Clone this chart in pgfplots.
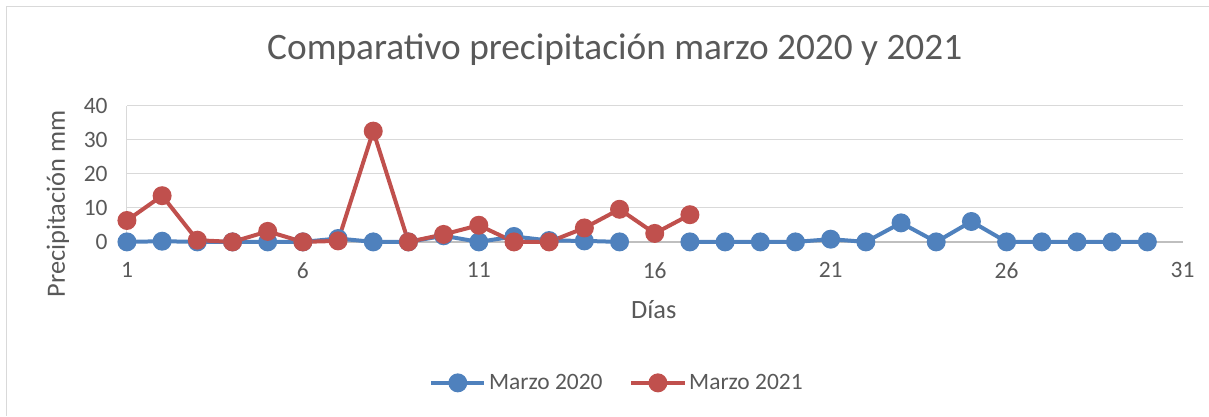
\documentclass[border=0pt]{standalone}
\usepackage{pgfplots}
\pgfplotsset{compat=1.18}
\usepackage{fontspec}
\setmainfont{Carlito}
\definecolor{cblue}{HTML}{4F81BD}
\definecolor{cred}{HTML}{C0504D}
\definecolor{ctext}{HTML}{595959}
\definecolor{cgrid}{HTML}{D9D9D9}
\definecolor{caxis}{HTML}{BFBFBF}
\begin{document}
\begin{tikzpicture}
\path (0,0) rectangle (906.75pt,312pt);
\draw[cgrid, line width=0.75pt] (5.25pt,0) -- (5.25pt,306.75pt) -- (906.75pt,306.75pt);
\node[text=ctext, font=\fontsize{28}{33}\selectfont] at (461.25pt,274.5pt) {Comparativo precipitación marzo 2020 y 2021};
\node[text=ctext, font=\fontsize{19.8}{24}\selectfont] at (490.5pt,79.5pt) {Días};
\node[text=ctext, font=\fontsize{19.8}{24}\selectfont, rotate=90] at (43.5pt,159pt) {Precipitación mm};
\begin{axis}[
  at={(95.25pt,130.5pt)}, anchor=south west,
  scale only axis, width=792pt, height=102pt,
  xmin=1, xmax=31, ymin=0, ymax=40,
  xtick={1,6,11,16,21,26,31}, ytick={0,10,20,30,40},
  major tick length=0pt,
  axis x line*=bottom, axis y line*=left,
  x axis line style={caxis, line width=1pt, -},
  y axis line style={cgrid, line width=0.75pt, -},
  ymajorgrids, grid style={cgrid, line width=0.75pt},
  /pgf/number format/assume math mode=true,
  tick label style={text=ctext, font=\fontsize{17.6}{21}\selectfont},
  xticklabel style={yshift=-12pt},
  yticklabel style={xshift=-11pt},
  clip=false,
  unbounded coords=jump,
  legend columns=2,
  legend style={at={(axis description cs:0.4645,-1.037)}, anchor=center, draw=none, fill=none,
    font=\fontsize{17.6}{21}\selectfont, text=ctext,
    /tikz/every even column/.append style={column sep=18pt}},
  legend image code/.code={\draw[mark repeat=2,mark phase=2,#1] plot coordinates {(0pt,0pt) (20pt,0pt) (40pt,0pt)};},
]
\addplot[cblue, line width=3pt, mark=*, mark size=5.6pt, mark options={solid}] coordinates {
(1,0) (2,0.2) (3,0) (4,0) (5,0) (6,0) (7,1) (8,0) (9,0) (10,1.8)
(11,0) (12,1.6) (13,0.4) (14,0.3) (15,0) (16,nan) (17,0) (18,0) (19,0) (20,0)
(21,0.8) (22,0) (23,5.6) (24,0) (25,6) (26,0) (27,0) (28,0) (29,0) (30,0)
};
\addlegendentry{Marzo 2020}
\addplot[cred, line width=3pt, mark=*, mark size=5.6pt, mark options={solid}] coordinates {
(1,6.3) (2,13.6) (3,0.5) (4,0) (5,3.1) (6,0) (7,0.3) (8,32.6) (9,0) (10,2.2)
(11,4.9) (12,0) (13,0) (14,4.1) (15,9.6) (16,2.5) (17,8)
};
\addlegendentry{Marzo 2021}
\end{axis}
\end{tikzpicture}
\end{document}
